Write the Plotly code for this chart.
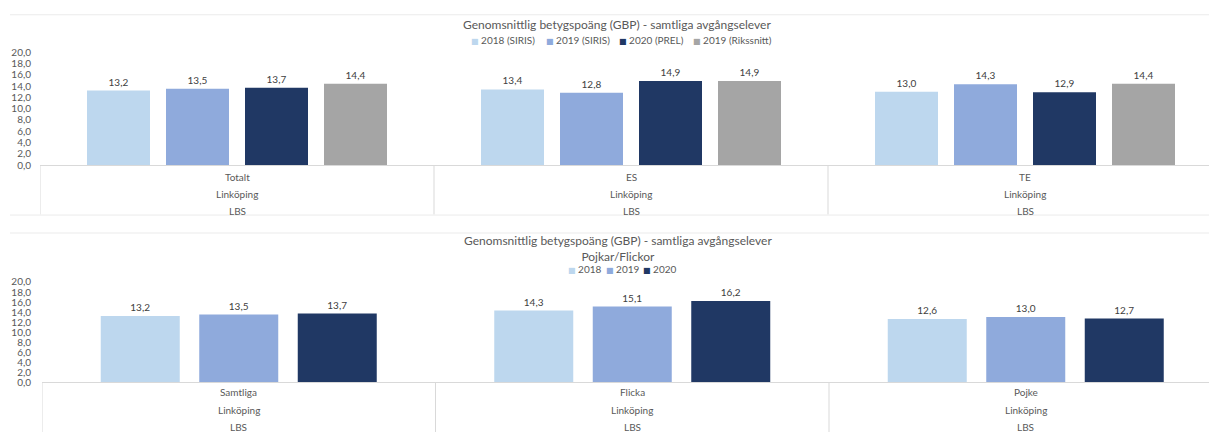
import plotly.graph_objects as go

# ---------------- data ----------------
top_categories = ["Totalt", "ES", "TE"]
top_series = ["2018 (SIRIS)", "2019 (SIRIS)", "2020 (PREL)", "2019 (Rikssnitt)"]
top_2018_siris = [13.2, 13.4, 13.0]
top_2019_siris = [13.5, 12.8, 14.3]
top_2020_prel = [13.7, 14.9, 12.9]
top_2019_riks = [14.4, 14.9, 14.4]

bottom_categories = ["Samtliga", "Flicka", "Pojke"]
bottom_series = ["2018", "2019", "2020"]
bottom_2018 = [13.2, 14.3, 12.6]
bottom_2019 = [13.5, 15.1, 13.0]
bottom_2020 = [13.7, 16.2, 12.7]

level2_label = "Linköping"
level3_label = "LBS"

y_ticks = [0, 2, 4, 6, 8, 10, 12, 14, 16, 18, 20]

title_top = "Genomsnittlig betygspoäng (GBP) - samtliga avgångselever"
title_bottom = "Genomsnittlig betygspoäng (GBP) - samtliga avgångselever<br>Pojkar/Flickor"

# ---------------- style ----------------
W, H = 1209, 432
FONT = "Lato"
TXT = "#595959"
colors_top = ["#BDD7EE", "#8FAADC", "#203864", "#A5A5A5"]
colors_bottom = ["#BDD7EE", "#8FAADC", "#203864"]
LINE = "#D9D9D9"

def py(p):  # pixel y -> paper y
    return 1 - p / H

fig = go.Figure()

# top chart bars
top_vals = [top_2018_siris, top_2019_siris, top_2020_prel, top_2019_riks]
slot_t, w_t = 79 / 394, 63 / 394
for i, (name, vals) in enumerate(zip(top_series, top_vals)):
    off = -2 * slot_t + i * slot_t + (slot_t - w_t) / 2
    fig.add_trace(go.Bar(
        x=top_categories, y=vals, name=name, xaxis="x", yaxis="y",
        width=w_t, offset=off, marker=dict(color=colors_top[i], line=dict(width=0)),
        text=[f"{v:.1f}".replace(".", ",") for v in vals], textposition="outside",
        textfont=dict(size=10, color="#404040", family=FONT), cliponaxis=False,
        showlegend=False, hoverinfo="x+y+name",
    ))

# bottom chart bars
bottom_vals = [bottom_2018, bottom_2019, bottom_2020]
slot_b, w_b = 98.5 / 393.5, 79 / 393.5
for i, (name, vals) in enumerate(zip(bottom_series, bottom_vals)):
    off = -1.5 * slot_b + i * slot_b + (slot_b - w_b) / 2
    fig.add_trace(go.Bar(
        x=bottom_categories, y=vals, name=name, xaxis="x2", yaxis="y2",
        width=w_b, offset=off, marker=dict(color=colors_bottom[i], line=dict(width=0)),
        text=[f"{v:.1f}".replace(".", ",") for v in vals], textposition="outside",
        textfont=dict(size=10, color="#404040", family=FONT), cliponaxis=False,
        showlegend=False, hoverinfo="x+y+name",
    ))

x0_top, x0_bot = 40, 42
cw_top, cw_bot = 394, 393.5
axis_common = dict(showgrid=False, zeroline=False, fixedrange=True)

fig.update_layout(
    width=W, height=H, margin=dict(l=0, r=0, t=0, b=0),
    paper_bgcolor="white", plot_bgcolor="white",
    separators=", ", barmode="overlay", showlegend=False,
    font=dict(family=FONT, color=TXT, size=10),
    xaxis=dict(domain=[x0_top / W, 1], range=[-0.5, -0.5 + (W - x0_top) / cw_top],
               showticklabels=False, showline=True, linecolor=LINE, linewidth=1,
               anchor="y", **axis_common),
    yaxis=dict(domain=[py(163), py(46.5)], range=[0, 20], tickvals=y_ticks,
               tickformat=".1f", showline=False, ticks="", ticklabelstandoff=8,
               tickfont=dict(size=10, color=TXT), anchor="x", **axis_common),
    xaxis2=dict(domain=[x0_bot / W, 1], range=[-0.5, -0.5 + (W - x0_bot) / cw_bot],
                showticklabels=False, showline=True, linecolor=LINE, linewidth=1,
                anchor="y2", **axis_common),
    yaxis2=dict(domain=[py(387), py(283.5)], range=[0, 20], tickvals=y_ticks,
                tickformat=".1f", showline=False, ticks="", ticklabelstandoff=10,
                tickfont=dict(size=10, color=TXT), anchor="x2", **axis_common),
)

annotations = [
    dict(text=title_top, x=617 / W, y=py(18), xref="paper", yref="paper",
         showarrow=False, font=dict(size=12, color=TXT), xanchor="center", yanchor="middle"),
    dict(text=title_bottom, x=618 / W, y=py(248.5), xref="paper", yref="paper",
         showarrow=False, font=dict(size=12, color=TXT), xanchor="center", yanchor="middle"),
]

# legends (Excel-style: small square + label)
legend_top_x = [469, 544, 617, 691]
legend_bot_x = [566, 604, 641]
for names, cols, xs, ypx in [(top_series, colors_top, legend_top_x, 34),
                             (bottom_series, colors_bottom, legend_bot_x, 270)]:
    for n, c, xpx in zip(names, cols, xs):
        annotations.append(dict(
            text=f"<span style='color:{c}; font-family:DejaVu Sans; font-size:8px'>■</span> {n}",
            x=xpx / W, y=py(ypx), xref="paper", yref="paper", showarrow=False,
            font=dict(size=10, color=TXT), xanchor="left", yanchor="middle"))

# category labels (three levels)
for cats, xr, yr, shifts in [(top_categories, "x", "y", (12, 29, 46)),
                             (bottom_categories, "x2", "y2", (10, 28, 45))]:
    for c in cats:
        for lbl, s in zip([c, level2_label, level3_label], shifts):
            annotations.append(dict(text=lbl, x=c, y=0, xref=xr, yref=yr, yshift=-s,
                                    showarrow=False, font=dict(size=10, color=TXT),
                                    xanchor="center", yanchor="middle"))
fig.update_layout(annotations=annotations)

shapes = []
# category separators
for xr, yr, bottom_px, axis_px, top_px in [("x", "y domain", 214, 163, 46.5),
                                           ("x2", "y2 domain", 440, 387, 283.5)]:
    dom_h = axis_px - top_px
    for b in [-0.5, 0.5, 1.5, 2.5]:
        shapes.append(dict(type="line", xref=xr, yref=yr, x0=b, x1=b,
                           y0=0, y1=-(bottom_px - axis_px) / dom_h,
                           line=dict(color=LINE, width=1)))
# chart borders
for ypx in [8, 214.5, 233]:
    shapes.append(dict(type="line", xref="paper", yref="paper", x0=10 / W, x1=1,
                       y0=py(ypx), y1=py(ypx), line=dict(color="#EBEBEB", width=1)))
fig.update_layout(shapes=shapes)

fig.write_html("out.html", config={"displayModeBar": False},
               post_script="document.body.style.margin='0';document.body.style.overflow='hidden';")
